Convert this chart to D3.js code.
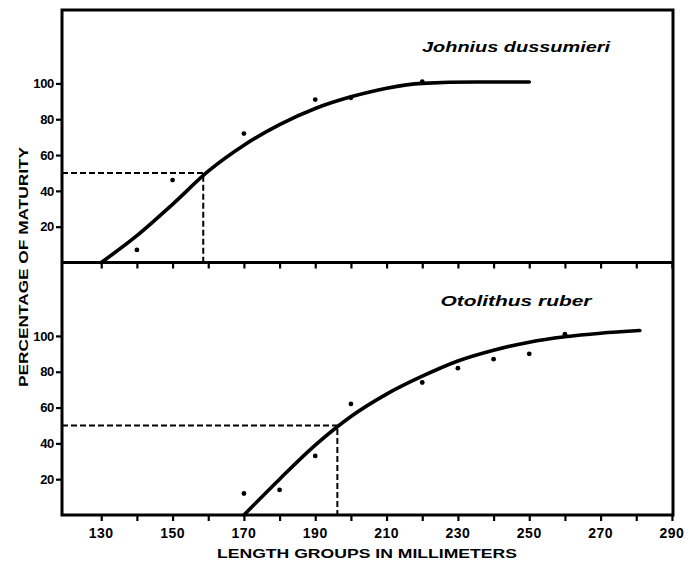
<!DOCTYPE html>
<html>
<head>
<meta charset="utf-8">
<script src="https://cdn.jsdelivr.net/npm/d3@7"></script>
<style>
  body { margin: 0; background: #fff; }
  text { font-family: "Liberation Sans", Arial, sans-serif; font-weight: bold; fill: #000; }
</style>
</head>
<body>
<script>
// x ticks and labels (length groups, mm)
const xTicks = [130, 140, 150, 160, 170, 180, 190, 200, 210, 220, 230, 240, 250, 260, 270, 280, 290];
const xLabels = [130, 150, 170, 190, 210, 230, 250, 270, 290];
const yTicks = [20, 40, 60, 80, 100];

// Johnius dussumieri: observed points
const johniusLen = [140, 150, 170, 190, 200, 220];
const johniusPct = [7, 46, 72, 91, 92, 101];
// fitted curve
const johniusCurveLen = [130, 140, 150, 160, 170, 180, 190, 200, 210, 220, 235, 250];
const johniusCurvePct = [0, 15, 32.5, 51, 65.5, 77, 86, 92.5, 97.3, 100, 100.8, 100.8];
const johniusL50 = 158.6;

// Otolithus ruber: observed points
const otolithusLen = [170, 180, 190, 200, 220, 230, 240, 250, 260];
const otolithusPct = [12, 14, 33, 62, 74, 82, 87, 90, 101];
const otolithusCurveLen = [170, 180, 190, 200, 210, 220, 230, 240, 250, 260, 270, 281];
const otolithusCurvePct = [0, 20, 39, 55, 67.5, 77.5, 86, 92, 96.5, 99.5, 101.5, 103];
const otolithusL50 = 196.2;

const W = 691, H = 567;
const margin = {left: 62, right: 18, top: 10};
const panelH = 252.5;
const width = W - margin.left - margin.right;

const svg = d3.select("body").append("svg")
    .attr("width", W)
    .attr("height", H);

const x = d3.scaleLinear().domain([119, 290.3]).range([0, width]);

const panels = [
    {name: "Johnius dussumieri", len: johniusLen, pct: johniusPct,
     cLen: johniusCurveLen, cPct: johniusCurvePct, l50: johniusL50, labelY: 52},
    {name: "Otolithus ruber", len: otolithusLen, pct: otolithusPct,
     cLen: otolithusCurveLen, cPct: otolithusCurvePct, l50: otolithusL50, labelY: 306}
];

panels.forEach((p, i) => {
    const top = margin.top + i * panelH;
    const g = svg.append("g").attr("transform", "translate(" + margin.left + "," + top + ")");
    const y = d3.scaleLinear().domain([0, 141]).range([panelH, 0]);

    // dashed 50% guide
    g.append("path")
        .attr("d", "M0," + y(50) + "H" + x(p.l50) + "V" + y(0))
        .attr("fill", "none")
        .attr("stroke", "#000")
        .attr("stroke-width", 2)
        .attr("stroke-dasharray", "6,3");

    // fitted curve
    const pts = p.cLen.map((l, k) => [l, p.cPct[k]]);
    g.append("path")
        .datum(pts)
        .attr("fill", "none")
        .attr("stroke", "#000")
        .attr("stroke-width", 3.6)
        .attr("stroke-linecap", "round")
        .attr("d", d3.line().x(d => x(d[0])).y(d => y(d[1])).curve(d3.curveMonotoneX));

    // observed points
    g.selectAll("circle.obs")
        .data(p.len.map((l, k) => [l, p.pct[k]]))
        .join("circle")
        .attr("class", "obs")
        .attr("cx", d => x(d[0]))
        .attr("cy", d => y(d[1]))
        .attr("r", 2.4)
        .attr("fill", "#000");

    // y axis
    const ya = g.append("g")
        .call(d3.axisLeft(y).tickValues(yTicks).tickSize(6).tickPadding(2));
    ya.select(".domain").remove();
    ya.selectAll(".tick line").attr("stroke-width", 2.2);
    ya.selectAll(".tick text")
        .attr("font-size", 13)
        .attr("letter-spacing", -0.3)
        .style("font-family", "'Liberation Sans', Arial, sans-serif")
        .style("font-weight", "bold");

    // x ticks on the bottom line of each panel (pointing down)
    const xa = g.append("g")
        .attr("transform", "translate(0," + panelH + ")")
        .call(d3.axisBottom(x).tickValues(xTicks).tickSize(6).tickFormat(""));
    xa.select(".domain").remove();
    xa.selectAll(".tick line").attr("stroke-width", 2.2);

    // species label
    svg.append("text")
        .attr("x", 516)
        .attr("y", p.labelY)
        .attr("text-anchor", "middle")
        .attr("font-size", 14)
        .attr("font-style", "italic")
        .attr("textLength", i === 0 ? 188 : 151)
        .attr("lengthAdjust", "spacingAndGlyphs")
        .text(p.name);
});

// frame and divider
svg.append("rect")
    .attr("x", margin.left)
    .attr("y", margin.top)
    .attr("width", width)
    .attr("height", panelH * 2)
    .attr("fill", "none")
    .attr("stroke", "#000")
    .attr("stroke-width", 3);
svg.append("line")
    .attr("x1", margin.left).attr("x2", margin.left + width)
    .attr("y1", margin.top + panelH).attr("y2", margin.top + panelH)
    .attr("stroke", "#000")
    .attr("stroke-width", 3);

// x tick labels
const bottom = margin.top + panelH * 2;
svg.append("g").selectAll("text")
    .data(xLabels)
    .join("text")
    .attr("x", d => margin.left + x(d))
    .attr("y", bottom + 23)
    .attr("text-anchor", "middle")
    .attr("font-size", 14)
    .attr("letter-spacing", 0.5)
    .text(d => d);

// axis titles
svg.append("text")
    .attr("x", 367)
    .attr("y", bottom + 43)
    .attr("text-anchor", "middle")
    .attr("font-size", 13)
    .attr("textLength", 300)
    .attr("lengthAdjust", "spacingAndGlyphs")
    .text("LENGTH GROUPS IN MILLIMETERS");

svg.append("text")
    .attr("transform", "translate(28,267) rotate(-90)")
    .attr("text-anchor", "middle")
    .attr("font-size", 13)
    .attr("textLength", 240)
    .attr("lengthAdjust", "spacingAndGlyphs")
    .text("PERCENTAGE OF MATURITY");
</script>
</body>
</html>
